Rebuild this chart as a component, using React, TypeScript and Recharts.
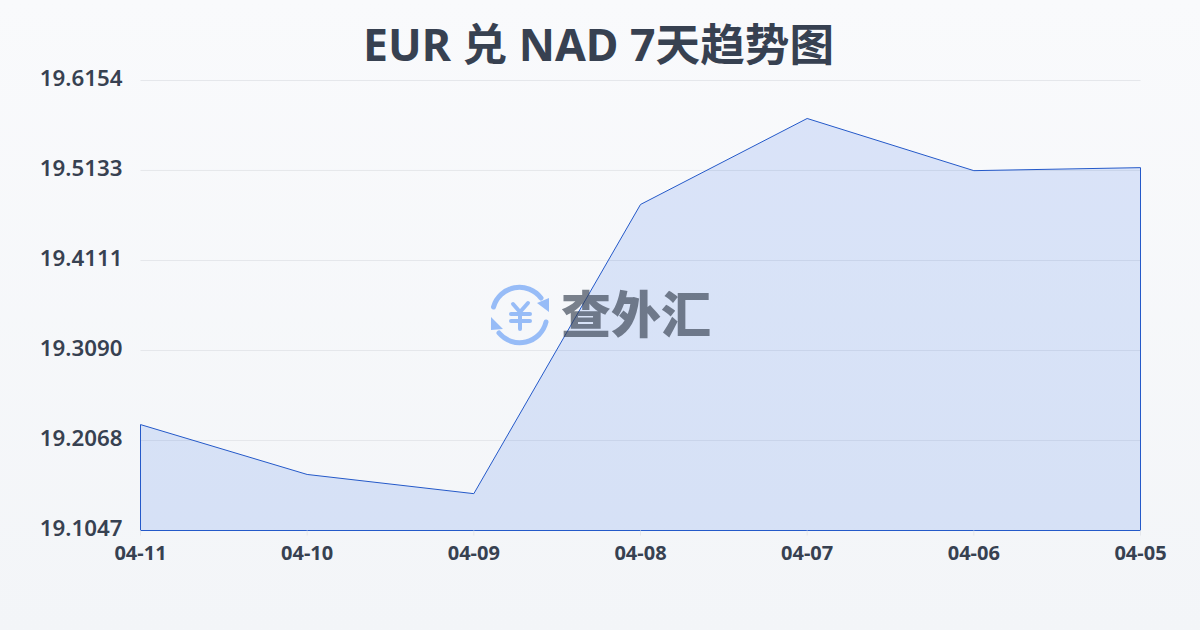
import React from 'react';
import { AreaChart, Area, XAxis, YAxis, CartesianGrid, ReferenceLine } from 'recharts';

const dates = ['04-11', '04-10', '04-09', '04-08', '04-07', '04-06', '04-05'];
const rates = [19.2249, 19.1683, 19.1465, 19.4747, 19.5723, 19.5131, 19.5165];
const yTicks = [19.1047, 19.2068, 19.309, 19.4111, 19.5133, 19.6154];

const FONT = '"Noto Sans", "Noto Sans CJK SC", sans-serif';
const TEXT = '#374151';
const BLUE = '#2459c9';

const data = dates.map((date, i) => ({ date, rate: rates[i] }));
const lastDate = dates[dates.length - 1];
const lastRate = rates[rates.length - 1];

const Watermark = () => (
  <svg width={1200} height={630} style={{ position: 'absolute', left: 0, top: 0 }}>
    <g opacity={0.5}>
      <g fill="none" stroke="#3b82f6" strokeWidth={5} strokeLinecap="round">
        <path d="M493.5 307 A27 27 0 0 1 541 298" />
        <path d="M546 322 A27 27 0 0 1 499 333" />
        <path d="M513 304 L520 312 L528 303" strokeWidth={4} />
        <path d="M511 314 H530 M511 321 H530 M520 312 V329" strokeWidth={4} />
      </g>
      <path d="M549 298 V312 L537 303 Z M491 317 V330 L503 329 Z" fill="#3b82f6" />
    </g>
    <text
      x={636}
      y={333}
      textAnchor="middle"
      fontFamily='"Noto Sans CJK SC", sans-serif'
      fontSize={50}
      fontWeight={900}
      fill="#374151"
      opacity={0.65}
    >
      查外汇
    </text>
  </svg>
);

export default function App() {
  return (
    <div
      style={{
        position: 'absolute',
        left: 0,
        top: 0,
        width: 1200,
        height: 630,
        overflow: 'hidden',
        background: 'linear-gradient(180deg, #f9fafc 0%, #f3f5f8 100%)',
        fontFamily: FONT,
      }}
    >
      <div
        style={{
          position: 'absolute',
          left: 0,
          top: 14,
          width: 1197,
          textAlign: 'center',
          fontSize: 44.6,
          lineHeight: '60px',
          fontWeight: 700,
          color: TEXT,
        }}
      >
        EUR 兑 NAD 7天趋势图
      </div>
      <div style={{ position: 'absolute', left: 0, top: 0 }}>
        <AreaChart
          width={1200}
          height={630}
          data={data}
          margin={{ top: 80.5, right: 59.5, bottom: 69.5, left: 0 }}
        >
          <CartesianGrid horizontal vertical={false} stroke="#e5e7eb" strokeWidth={1} />
          <XAxis
            dataKey="date"
            scale="point"
            height={30}
            padding={{ left: 0, right: 0 }}
            axisLine={false}
            tickLine={{ stroke: '#e5e7eb' }}
            tickSize={5}
            tickMargin={10}
            interval={0}
            tick={{ fill: TEXT, fontSize: 20, fontWeight: 700, fontFamily: FONT }}
          />
          <YAxis
            width={140.5}
            domain={[19.1047, 19.6154]}
            ticks={yTicks}
            tickFormatter={(v: number) => v.toFixed(4)}
            axisLine={false}
            tickLine={false}
            tickMargin={18}
            tickSize={0}
            interval={0}
            tick={{ fill: TEXT, fontSize: 22.3, fontWeight: 600, fontFamily: FONT, dy: -2 }}
          />
          <Area
            type="linear"
            dataKey="rate"
            stroke={BLUE}
            strokeWidth={1}
            fill="#2563eb"
            fillOpacity={0.14}
            dot={false}
            activeDot={false}
            isAnimationActive={false}
          />
          <ReferenceLine
            segment={[{ x: dates[0], y: yTicks[0] }, { x: dates[0], y: rates[0] }]}
            stroke={BLUE}
            strokeWidth={1}
          />
          <ReferenceLine
            segment={[{ x: lastDate, y: yTicks[0] }, { x: lastDate, y: lastRate }]}
            stroke={BLUE}
            strokeWidth={1}
          />
          <ReferenceLine y={yTicks[0]} stroke={BLUE} strokeWidth={1} />
        </AreaChart>
      </div>
      <Watermark />
    </div>
  );
}
